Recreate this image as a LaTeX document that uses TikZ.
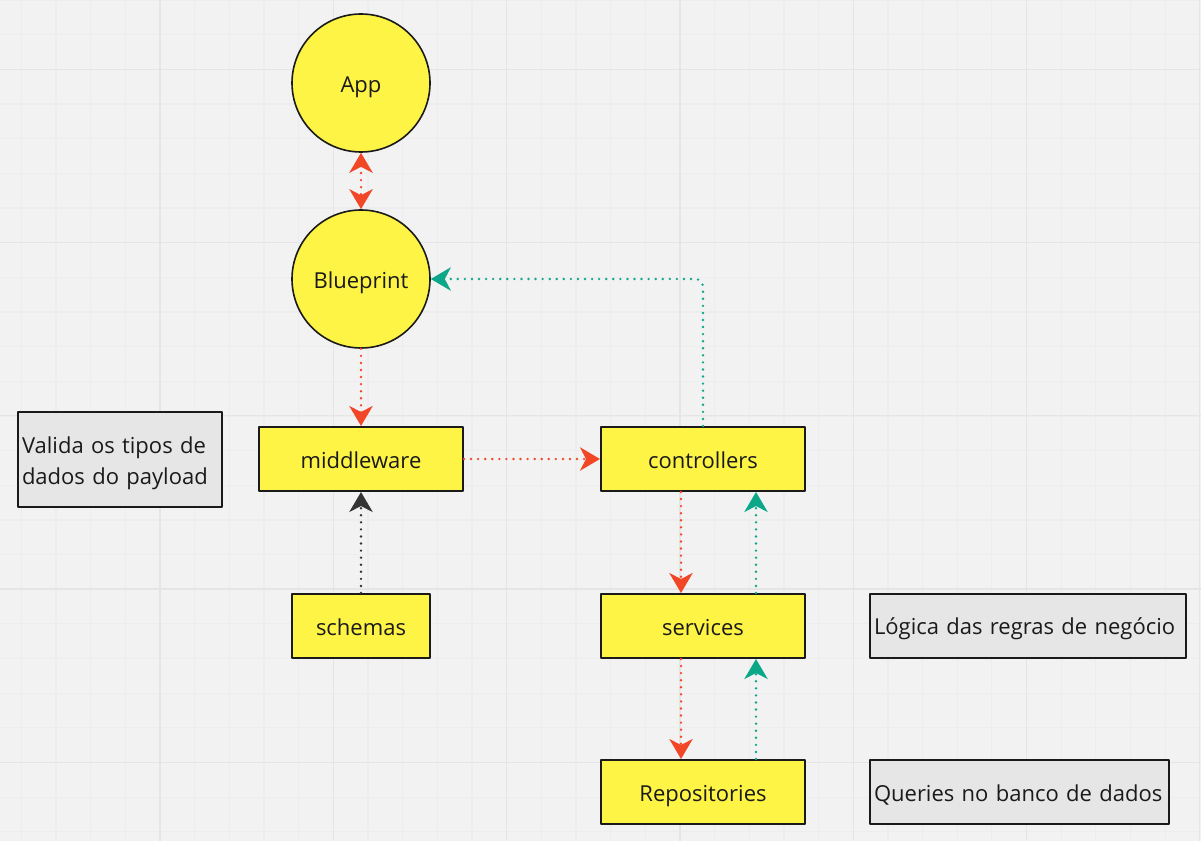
\documentclass[tikz,border=0pt]{standalone}
\usepackage{fontspec}
\setmainfont{Open Sans}
\usepackage{xcolor}
\usetikzlibrary{arrows.meta}
\definecolor{board}{HTML}{F2F2F2}
\definecolor{gridminor}{HTML}{EDEDED}
\definecolor{gridmajor}{HTML}{E5E5E5}
\definecolor{stickyyellow}{HTML}{FEF445}
\definecolor{notegray}{HTML}{E6E6E6}
\definecolor{ink}{HTML}{1A1A1A}
\definecolor{flowred}{HTML}{F24726}
\definecolor{flowteal}{HTML}{0CA789}
\definecolor{flowdark}{HTML}{333333}

\begin{document}
\begin{tikzpicture}[x=0.75pt,y=-0.75pt,line join=round,
  font=\fontsize{16.5pt}{23pt}\selectfont,text=ink,
  layer/.style={draw=ink,line width=1.5pt,fill=stickyyellow,rectangle,minimum width=153pt,minimum height=48pt,inner sep=0pt,text height=14pt,text depth=0pt},
  hub/.style={draw=ink,line width=1.2pt,fill=stickyyellow,circle,minimum size=103.5pt,inner sep=0pt,text height=14pt,text depth=0pt},
  note/.style={draw=ink,line width=1.5pt,fill=notegray,rectangle,align=left,inner xsep=3pt,inner ysep=0pt,anchor=west,execute at begin node={\rule{0pt}{#1}}},
  note/.default=16.5pt,
  flow/.style={line width=2pt,line cap=round,dash pattern=on 0pt off 5.3pt,-{Stealth[length=15pt,width=17.5pt,inset=4.5pt]}},
  callflow/.style={flow,draw=flowred},
  backflow/.style={flow,draw=flowteal},
  schemaflow/.style={flow,draw=flowdark}]
\useasboundingbox (0,0) rectangle (1201,841);
\fill[board] (0,0) rectangle (1201,841);
% grid
\foreach \gx in {21.4,56.06,...,1201} \draw[gridminor,line width=0.9pt] (\gx,0) -- (\gx,841);
\foreach \gy in {0,34.66,...,841} \draw[gridminor,line width=0.9pt] (0,\gy) -- (1201,\gy);
\foreach \gx in {160,333.3,...,1201} \draw[gridmajor,line width=1pt] (\gx,0) -- (\gx,841);
\foreach \gy in {69.2,242.5,...,841} \draw[gridmajor,line width=1pt] (0,\gy) -- (1201,\gy);

\node[hub] (app) at (361,83) {App};
\node[hub] (blueprint) at (361,279) {Blueprint};
\node[layer] (middleware) at (361,459) {middleware};
\node[layer] (controllers) at (703,459) {controllers};
\node[layer] (services) at (703,626) {services};
\node[layer] (repositories) at (703,792) {Repositories};
\node[layer,minimum width=103.5pt] (schemas) at (361,626) {schemas};

\node[note=18.5pt,minimum height=71.25pt,text width=147pt] (validanote) at (17,459.5) {Valida os tipos de\\dados do payload};
\node[note,minimum height=48pt,text width=231pt] (logicanote) at (869,626) {Lógica das regras de negócio};
\node[note=17pt,minimum height=48pt,text width=218.25pt] (queriesnote) at (869,792) {Queries no banco de dados};

\draw[callflow,{Stealth[length=15pt,width=17.5pt,inset=4.5pt]}-{Stealth[length=15pt,width=17.5pt,inset=4.5pt]}] (app) -- (blueprint);
\draw[callflow] (blueprint) -- (middleware);
\draw[callflow] (middleware) -- (controllers);
\draw[backflow,rounded corners=6pt] (controllers.north) |- (blueprint.east);
\draw[callflow] ([xshift=-16.5pt]controllers.south) -- ([xshift=-16.5pt]services.north);
\draw[backflow] ([xshift=39.75pt]services.north) -- ([xshift=39.75pt]controllers.south);
\draw[callflow] ([xshift=-16.5pt]services.south) -- ([xshift=-16.5pt]repositories.north);
\draw[backflow] ([xshift=39.75pt]repositories.north) -- ([xshift=39.75pt]services.south);
\draw[schemaflow] (schemas) -- (middleware);
\end{tikzpicture}
\end{document}
